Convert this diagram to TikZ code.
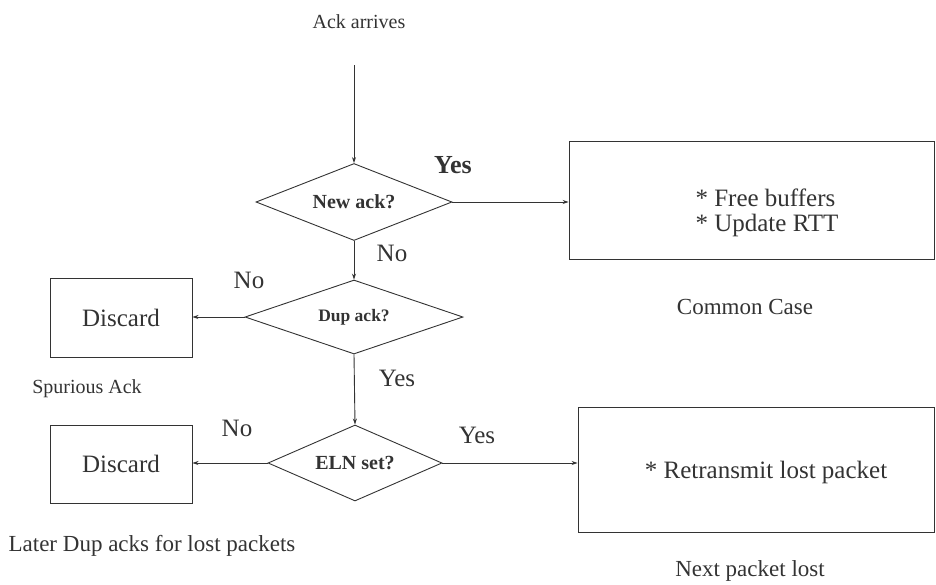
\documentclass[tikz,border=0pt]{standalone}
\usepackage{fontspec}
\setmainfont{Liberation Serif}
\usetikzlibrary{shapes.geometric,arrows.meta}

\definecolor{ink}{gray}{0.2}

\tikzset{
  every node/.style={text=ink},
  line/.style={draw=ink, line width=0.9pt},
  flow/.style={line, -{Stealth[length=6pt,width=4pt]}},
  decision/.style={draw=ink, line width=0.9pt, diamond, inner sep=0pt,
    font=\fontsize{20}{24}\selectfont\bfseries},
  actionbox/.style={draw=ink, line width=0.9pt, rectangle, inner sep=0pt,
    font=\fontsize{25}{30}\selectfont},
  boxtext/.style={font=\fontsize{25}{25}\selectfont, align=left},
  caption/.style={font=\fontsize{23}{27}\selectfont},
  answer/.style={font=\fontsize{25}{30}\selectfont},
}

\begin{document}
\begin{tikzpicture}[x=1pt, y=-1pt]
  \useasboundingbox (0,0) rectangle (936,584);

  % entry point
  \node[caption, font=\fontsize{20}{24}\selectfont] (title) at (359,22) {Ack arrives};
  \coordinate (start) at (354,65);

  % decisions
  \node[decision, minimum width=196pt, minimum height=77pt, aspect=2.5]
    (newack) at (354,202) {New ack?};
  \node[decision, minimum width=218pt, minimum height=74pt, aspect=2.9,
    font=\fontsize{17.5}{21}\selectfont\bfseries]
    (dupack) at (354,317) {Dup ack?};
  \node[decision, minimum width=174pt, minimum height=76pt, aspect=2.3]
    (eln) at (355,463) {ELN set?};

  % actions
  \node[actionbox, minimum width=365pt, minimum height=118pt]
    (common) at (751.5,200) {};
  \node[boxtext] (commontext) at (767,213)
    {* Free buffers\\* Update RTT};
  \node[actionbox, minimum width=142pt, minimum height=79pt]
    (discard1) at (121,317.5) {Discard};
  \node[actionbox, minimum width=142pt, minimum height=78pt]
    (discard2) at (121,464) {Discard};
  \node[actionbox, minimum width=356pt, minimum height=125pt]
    (retx) at (756,469.5) {};
  \node[boxtext] (retxtext) at (766,472) {* Retransmit lost packet};

  % captions
  \node[caption] (commoncap) at (745,307) {Common Case};
  \node[caption, font=\fontsize{20}{24}\selectfont] (spurious) at (87,389) {Spurious Ack};
  \node[caption] (later) at (152,546) {Later Dup acks for lost packets};
  \node[caption] (nextlost) at (750,571) {Next packet lost};

  % branch labels
  \node[answer, font=\fontsize{26}{30}\selectfont\bfseries] (yes1) at (453,165) {Yes};
  \node[answer] (no1) at (392,253) {No};
  \node[answer] (no2) at (249,280) {No};
  \node[answer] (yes2) at (397,378) {Yes};
  \node[answer] (no3) at (237,428) {No};
  \node[answer] (yes3) at (477,435) {Yes};

  % connectors
  \draw[flow] (start) -- (newack.north);
  \draw[flow] (newack.east) -- (newack.east -| common.west);
  \draw[flow] (newack.south) -- (dupack.north);
  \draw[flow] (dupack.west) -- (dupack.west -| discard1.east);
  \draw[flow] (dupack.south) -- (eln.north);
  \draw[flow] (eln.west) -- (eln.west -| discard2.east);
  \draw[flow] (eln.east) -- (eln.east -| retx.west);
\end{tikzpicture}
\end{document}
